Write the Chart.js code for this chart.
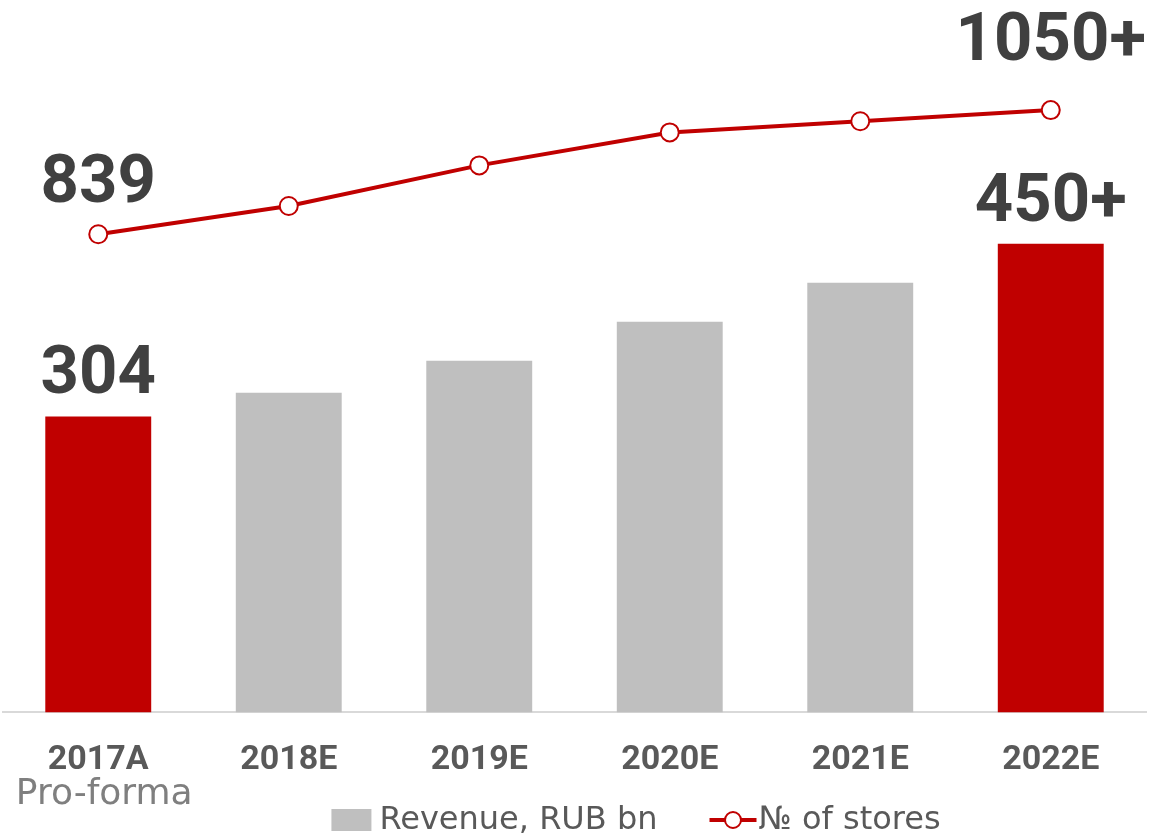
<!DOCTYPE html>
<html>
<head>
<meta charset="utf-8">
<script src="https://cdn.jsdelivr.net/npm/chart.js@4/dist/chart.umd.min.js"></script>
<style>
  html, body { margin: 0; padding: 0; background: #ffffff; }
  #wrap { width: 1151px; height: 839px; position: relative; }
</style>
</head>
<body>
<div id="wrap"><canvas id="c"></canvas></div>
<script>
// Revenue and store count plan, 2017A–2022E
const categories = ['2017A', '2018E', '2019E', '2020E', '2021E', '2022E'];
const revenue = [304, 324, 351, 384, 417, 450];
const stores = [839, 887, 956, 1012, 1031, 1050];
const revenueLabels = ['304', '', '', '', '', '450+'];
const storeLabels = ['839', '', '', '', '', '1050+'];
const seriesNames = ['Revenue, RUB bn', '№ of stores'];
const subLabel = 'Pro-forma';

const RED = '#c00000';
const GREY = '#bfbfbf';
const TEXT_DARK = '#404040';
const TEXT_TICK = '#595959';
const TEXT_SOFT = '#7f7f7f';
const LIGHT_FONT = '"DejaVu Sans", sans-serif';

const isHighlight = (i) => i === 0 || i === categories.length - 1;

// Big value labels above first/last bar and first/last point
const valueLabels = {
  id: 'valueLabels',
  afterDatasetsDraw(chart) {
    const ctx = chart.ctx;
    ctx.save();
    ctx.font = 'bold 67px Roboto';
    ctx.fillStyle = TEXT_DARK;
    ctx.textAlign = 'center';
    ctx.textBaseline = 'alphabetic';
    const bars = chart.getDatasetMeta(0).data;
    bars.forEach((el, i) => {
      if (revenueLabels[i]) ctx.fillText(revenueLabels[i], el.x, el.y - 23);
    });
    const pts = chart.getDatasetMeta(1).data;
    pts.forEach((el, i) => {
      if (!storeLabels[i]) return;
      const lift = i === 0 ? 32 : 50;
      ctx.fillText(storeLabels[i], el.x, el.y - lift);
    });
    ctx.restore();
  }
};

// Second line under the first category tick
const subTick = {
  id: 'subTick',
  afterDraw(chart) {
    const x = chart.scales.x.getPixelForValue(0);
    const ctx = chart.ctx;
    ctx.save();
    ctx.font = '36px ' + LIGHT_FONT;
    ctx.fillStyle = TEXT_SOFT;
    ctx.textAlign = 'center';
    ctx.textBaseline = 'middle';
    ctx.fillText(subLabel, x + 6, 795);
    ctx.restore();
  }
};

// Legend row: grey box for revenue, red line with hollow marker for stores
const legendRow = {
  id: 'legendRow',
  afterDraw(chart) {
    const ctx = chart.ctx;
    const cy = 820;
    ctx.save();
    ctx.font = '32px ' + LIGHT_FONT;
    ctx.fillStyle = TEXT_TICK;
    ctx.textBaseline = 'middle';
    ctx.textAlign = 'left';
    const w0 = ctx.measureText(seriesNames[0]).width;
    const w1 = ctx.measureText(seriesNames[1]).width;
    const total = 40 + 8 + w0 + 52 + 47 + 2 + w1;
    let x = 636 - total / 2;
    ctx.fillStyle = GREY;
    ctx.fillRect(x, cy - 11, 40, 22);
    x += 48;
    ctx.fillStyle = TEXT_TICK;
    ctx.fillText(seriesNames[0], x, cy + 1);
    x += w0 + 52;
    ctx.strokeStyle = RED;
    ctx.lineWidth = 4;
    ctx.beginPath();
    ctx.moveTo(x, cy);
    ctx.lineTo(x + 47, cy);
    ctx.stroke();
    ctx.beginPath();
    ctx.arc(x + 23.5, cy, 8, 0, Math.PI * 2);
    ctx.fillStyle = '#ffffff';
    ctx.fill();
    ctx.lineWidth = 2;
    ctx.stroke();
    x += 49;
    ctx.fillStyle = TEXT_TICK;
    ctx.fillText(seriesNames[1], x, cy + 1);
    ctx.restore();
  }
};

new Chart(document.getElementById('c'), {
  data: {
    labels: categories,
    datasets: [
      {
        type: 'bar',
        label: seriesNames[0],
        data: revenue,
        yAxisID: 'y',
        order: 2,
        backgroundColor: (c) => isHighlight(c.dataIndex) ? RED : GREY,
        borderWidth: 0,
        categoryPercentage: 1,
        barPercentage: 0.556
      },
      {
        type: 'line',
        label: seriesNames[1],
        data: stores,
        yAxisID: 'y1',
        order: 1,
        borderColor: RED,
        borderWidth: 4,
        tension: 0,
        pointRadius: 9,
        pointBorderWidth: 2,
        pointBackgroundColor: '#ffffff',
        pointBorderColor: RED,
        clip: false
      }
    ]
  },
  options: {
    responsive: true,
    maintainAspectRatio: false,
    animation: false,
    layout: { autoPadding: false, padding: { left: 3, right: 5, top: 0, bottom: 30 } },
    plugins: {
      legend: { display: false },
      tooltip: { enabled: false },
      title: { display: false }
    },
    scales: {
      x: {
        grid: { display: false, drawTicks: false },
        border: { display: true, color: '#d9d9d9', width: 2 },
        ticks: {
          color: TEXT_TICK,
          font: { family: 'Roboto', weight: 'bold', size: 34 },
          padding: 28,
          maxRotation: 0
        }
      },
      y: {
        display: false,
        min: 54,
        max: 656
      },
      y1: {
        display: false,
        min: 27,
        max: 1237
      }
    }
  },
  plugins: [valueLabels, subTick, legendRow]
});
</script>
</body>
</html>
